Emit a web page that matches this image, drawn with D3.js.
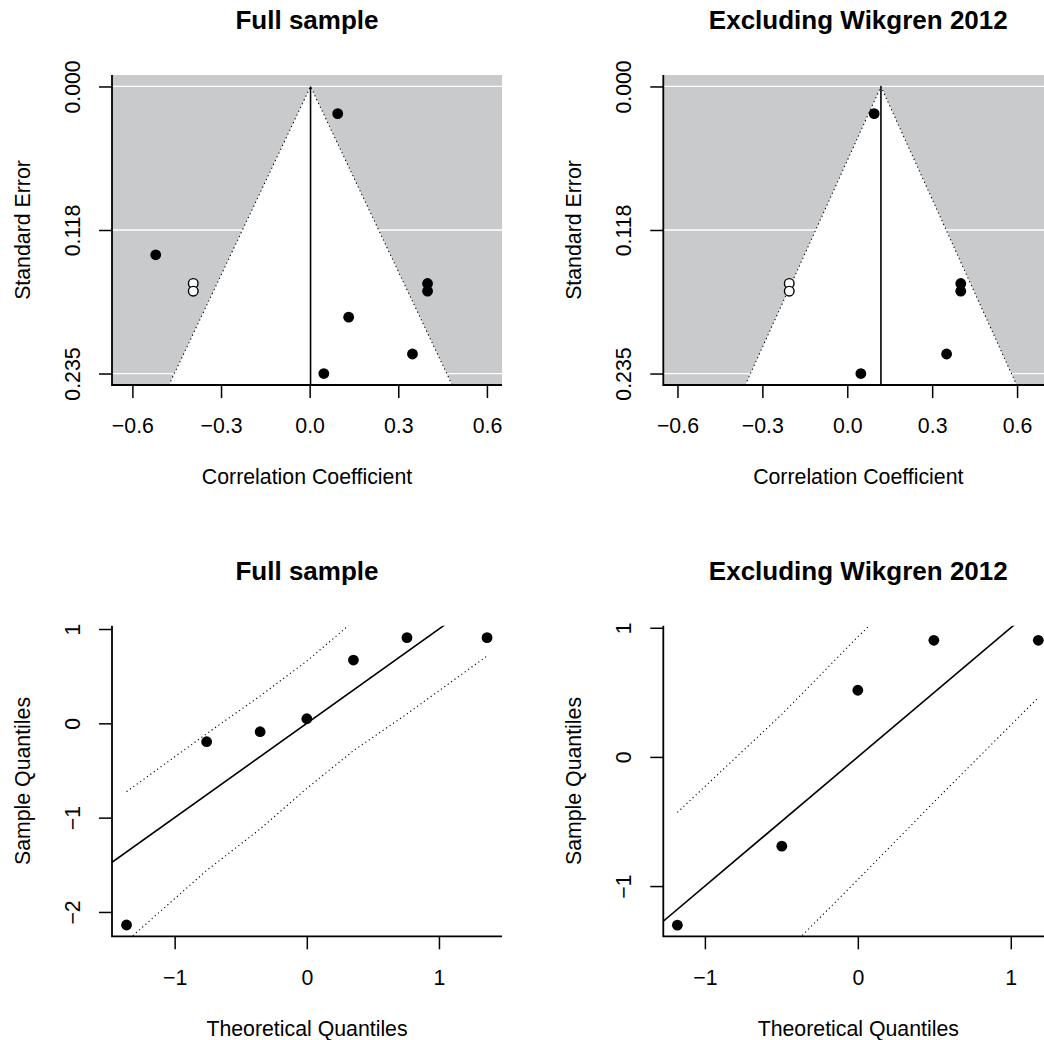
<!DOCTYPE html>
<html>
<head>
<meta charset="utf-8">
<script src="https://cdn.jsdelivr.net/npm/d3@7"></script>
<style>
  html, body { margin: 0; padding: 0; background: #fff; }
  svg { display: block; font-family: "Liberation Sans", Arial, sans-serif; }
</style>
</head>
<body>
<svg id="chart" width="1044" height="1040"></svg>
<script>
// ---------------- DATA ----------------
// Funnel plot, full sample
const funnelFullEst = [0.095, -0.521, 0.399, 0.399, 0.132, 0.348, 0.048];
const funnelFullSE = [0.0223, 0.1379, 0.1614, 0.1677, 0.189, 0.2192, 0.2352];
const funnelFullFilledEst = [-0.394, -0.394];
const funnelFullFilledSE = [0.1614, 0.1677];
const funnelFullCenter = 0.003;
const funnelFullXlim = [-0.669, 0.651];

// Funnel plot, excluding Wikgren 2012
const funnelExclEst = [0.095, 0.048, 0.401, 0.401, 0.351];
const funnelExclSE = [0.0223, 0.2352, 0.1614, 0.1677, 0.2192];
const funnelExclFilledEst = [-0.205, -0.205];
const funnelExclFilledSE = [0.1614, 0.1677];
const funnelExclCenter = 0.119;
const funnelExclXlim = [-0.650, 0.728];

const seLim = [-0.0094, 0.2446];
const seTicks = [0, 0.1176, 0.2352];
const seTickLabels = ["0.000", "0.118", "0.235"];
const corrTicks = [-0.6, -0.3, 0, 0.3, 0.6];
const corrTickLabels = ["\u22120.6", "\u22120.3", "0.0", "0.3", "0.6"];

// Normal QQ plots
const qqFullTheo = [-1.364, -0.758, -0.353, 0, 0.353, 0.758, 1.364];
const qqFullSample = [-2.138, -0.195, -0.089, 0.049, 0.671, 0.908, 0.908];
const qqFullUpper = [-0.725, -0.11, 0.29, 0.66, 1.08, 1.56, 2.31];
const qqFullLower = [-2.31, -1.56, -1.12, -0.69, -0.29, 0.10, 0.714];
const qqFullXlim = [-1.474, 1.477];
const qqFullYlim = [-2.258, 1.035];
const qqFullYTicks = [-2, -1, 0, 1];
const qqFullYTickLabels = ["\u22122", "\u22121", "0", "1"];

const qqExclTheo = [-1.18, -0.497, 0, 0.497, 1.18];
const qqExclSample = [-1.303, -0.691, 0.516, 0.903, 0.903];
const qqExclUpper = [-0.43, 0.33, 0.93, 1.50, 2.30];
const qqExclLower = [-2.30, -1.54, -0.95, -0.35, 0.46];
const qqExclXlim = [-1.272, 1.278];
const qqExclYlim = [-1.389, 1.016];
const qqExclYTicks = [-1, 0, 1];
const qqExclYTickLabels = ["\u22121", "0", "1"];

const qqXTicks = [-1, 0, 1];
const qqXTickLabels = ["\u22121", "0", "1"];

const titles = ["Full sample", "Excluding Wikgren 2012", "Full sample", "Excluding Wikgren 2012"];

// ---------------- LAYOUT ----------------
const svg = d3.select("#chart");
svg.append("rect").attr("width", 1044).attr("height", 1040).attr("fill", "#fff");

const geoms = [
  { x0: 112, x1: 502, y0: 75, y1: 385 },
  { x0: 663.3, x1: 1053.3, y0: 75, y1: 385 },
  { x0: 112, x1: 502, y0: 625.7, y1: 936.3 },
  { x0: 663.3, x1: 1053.3, y0: 625.7, y1: 936.3 }
];
const FS = 21.3, TFS = 26;
const GRAY = "#c9cacc";
const PR = 5.4;

function frame(i, xScale, yScale, xTicks, xLabels, yTicks, yLabels, xTitle, yTitle) {
  const g = geoms[i];
  const root = svg.append("g");
  // axes
  const xa = root.append("g").attr("transform", `translate(0,${g.y1})`)
    .call(d3.axisBottom(xScale).tickValues(xTicks).tickSize(13).tickSizeOuter(0)
      .tickFormat((d, k) => xLabels[k]));
  xa.select(".domain").remove();
  xa.selectAll("line").attr("stroke", "#000").attr("stroke-width", 1.5);
  xa.selectAll("text").attr("y", 48.3).attr("dy", 0).attr("font-size", FS)
    .attr("font-family", "Liberation Sans, Arial, sans-serif").attr("fill", "#000");

  const ya = root.append("g").attr("transform", `translate(${g.x0},0)`)
    .call(d3.axisLeft(yScale).tickValues(yTicks).tickSize(13).tickSizeOuter(0)
      .tickFormat((d, k) => yLabels[k]));
  ya.select(".domain").remove();
  ya.selectAll("line").attr("stroke", "#000").attr("stroke-width", 1.5);
  ya.selectAll("text").attr("x", 0).attr("y", 0).attr("dy", 0)
    .attr("transform", "translate(-32,0) rotate(-90)")
    .attr("text-anchor", "middle").attr("font-size", FS)
    .attr("font-family", "Liberation Sans, Arial, sans-serif").attr("fill", "#000");

  // L box
  root.append("path")
    .attr("d", `M${g.x0},${g.y0} L${g.x0},${g.y1} L${g.x1},${g.y1}`)
    .attr("fill", "none").attr("stroke", "#000").attr("stroke-width", 1.8);

  // titles
  const cx = (g.x0 + g.x1) / 2, cy = (g.y0 + g.y1) / 2;
  root.append("text").attr("x", cx).attr("y", g.y0 - 45.7)
    .attr("text-anchor", "middle").attr("font-weight", "bold").attr("font-size", TFS)
    .text(titles[i]);
  root.append("text").attr("x", cx).attr("y", g.y1 + 99.3)
    .attr("text-anchor", "middle").attr("font-size", FS).text(xTitle);
  root.append("text").attr("transform", `translate(${g.x0 - 82},${cy}) rotate(-90)`)
    .attr("text-anchor", "middle").attr("font-size", FS).text(yTitle);
}

function clipFor(i) {
  const g = geoms[i];
  const id = "clip" + i;
  svg.append("clipPath").attr("id", id).append("rect")
    .attr("x", g.x0).attr("y", g.y0).attr("width", g.x1 - g.x0).attr("height", g.y1 - g.y0);
  return svg.append("g").attr("clip-path", `url(#${id})`);
}

function funnel(i, est, se, fEst, fSE, center, xlim) {
  const g = geoms[i];
  const x = d3.scaleLinear().domain(xlim).range([g.x0, g.x1]);
  const y = d3.scaleLinear().domain(seLim).range([g.y0, g.y1]);
  const p = clipFor(i);
  p.append("rect").attr("x", g.x0).attr("y", g.y0).attr("width", g.x1 - g.x0)
    .attr("height", g.y1 - g.y0).attr("fill", GRAY);
  p.selectAll(".hl").data(seTicks).join("line")
    .attr("x1", g.x0).attr("x2", g.x1).attr("y1", d => y(d)).attr("y2", d => y(d))
    .attr("stroke", "#fff").attr("stroke-width", 1.3);
  const seMax = seLim[1];
  const tri = [[center - 1.96 * seMax, seMax], [center, 0], [center + 1.96 * seMax, seMax]];
  p.append("path")
    .attr("d", d3.line().x(d => x(d[0])).y(d => y(d[1]))(tri) + "Z")
    .attr("fill", "#fff");
  p.append("path")
    .attr("d", d3.line().x(d => x(d[0])).y(d => y(d[1]))(tri))
    .attr("fill", "none").attr("stroke", "#000").attr("stroke-width", 1.1)
    .attr("stroke-dasharray", "1.2,3");
  p.append("line").attr("x1", x(center)).attr("x2", x(center))
    .attr("y1", y(0)).attr("y2", g.y1).attr("stroke", "#000").attr("stroke-width", 1.6);
  p.selectAll(".pt").data(est.map((e, k) => [e, se[k]])).join("circle")
    .attr("cx", d => x(d[0])).attr("cy", d => y(d[1])).attr("r", PR).attr("fill", "#000");
  p.selectAll(".fp").data(fEst.map((e, k) => [e, fSE[k]])).join("circle")
    .attr("cx", d => x(d[0])).attr("cy", d => y(d[1])).attr("r", PR - 0.6)
    .attr("fill", "#fff").attr("stroke", "#000").attr("stroke-width", 1.4);
  frame(i, x, y, corrTicks, corrTickLabels, seTicks, seTickLabels,
    "Correlation Coefficient", "Standard Error");
}

function qq(i, theo, sample, upper, lower, xlim, ylim, yTicks, yLabels) {
  const g = geoms[i];
  const x = d3.scaleLinear().domain(xlim).range([g.x0, g.x1]);
  const y = d3.scaleLinear().domain(ylim).range([g.y1, g.y0]);
  const p = clipFor(i);
  const ln = d3.line().x(d => x(d[0])).y(d => y(d[1]));
  p.append("path").attr("d", ln(theo.map((t, k) => [t, upper[k]])))
    .attr("fill", "none").attr("stroke", "#000").attr("stroke-width", 1.1)
    .attr("stroke-dasharray", "1.2,3");
  p.append("path").attr("d", ln(theo.map((t, k) => [t, lower[k]])))
    .attr("fill", "none").attr("stroke", "#000").attr("stroke-width", 1.1)
    .attr("stroke-dasharray", "1.2,3");
  p.append("path").attr("d", ln([[xlim[0], xlim[0]], [xlim[1], xlim[1]]]))
    .attr("fill", "none").attr("stroke", "#000").attr("stroke-width", 1.6);
  p.selectAll(".pt").data(theo.map((t, k) => [t, sample[k]])).join("circle")
    .attr("cx", d => x(d[0])).attr("cy", d => y(d[1])).attr("r", PR).attr("fill", "#000");
  frame(i, x, y, qqXTicks, qqXTickLabels, yTicks, yLabels,
    "Theoretical Quantiles", "Sample Quantiles");
}

funnel(0, funnelFullEst, funnelFullSE, funnelFullFilledEst, funnelFullFilledSE, funnelFullCenter, funnelFullXlim);
funnel(1, funnelExclEst, funnelExclSE, funnelExclFilledEst, funnelExclFilledSE, funnelExclCenter, funnelExclXlim);
qq(2, qqFullTheo, qqFullSample, qqFullUpper, qqFullLower, qqFullXlim, qqFullYlim, qqFullYTicks, qqFullYTickLabels);
qq(3, qqExclTheo, qqExclSample, qqExclUpper, qqExclLower, qqExclXlim, qqExclYlim, qqExclYTicks, qqExclYTickLabels);
</script>
</body>
</html>
